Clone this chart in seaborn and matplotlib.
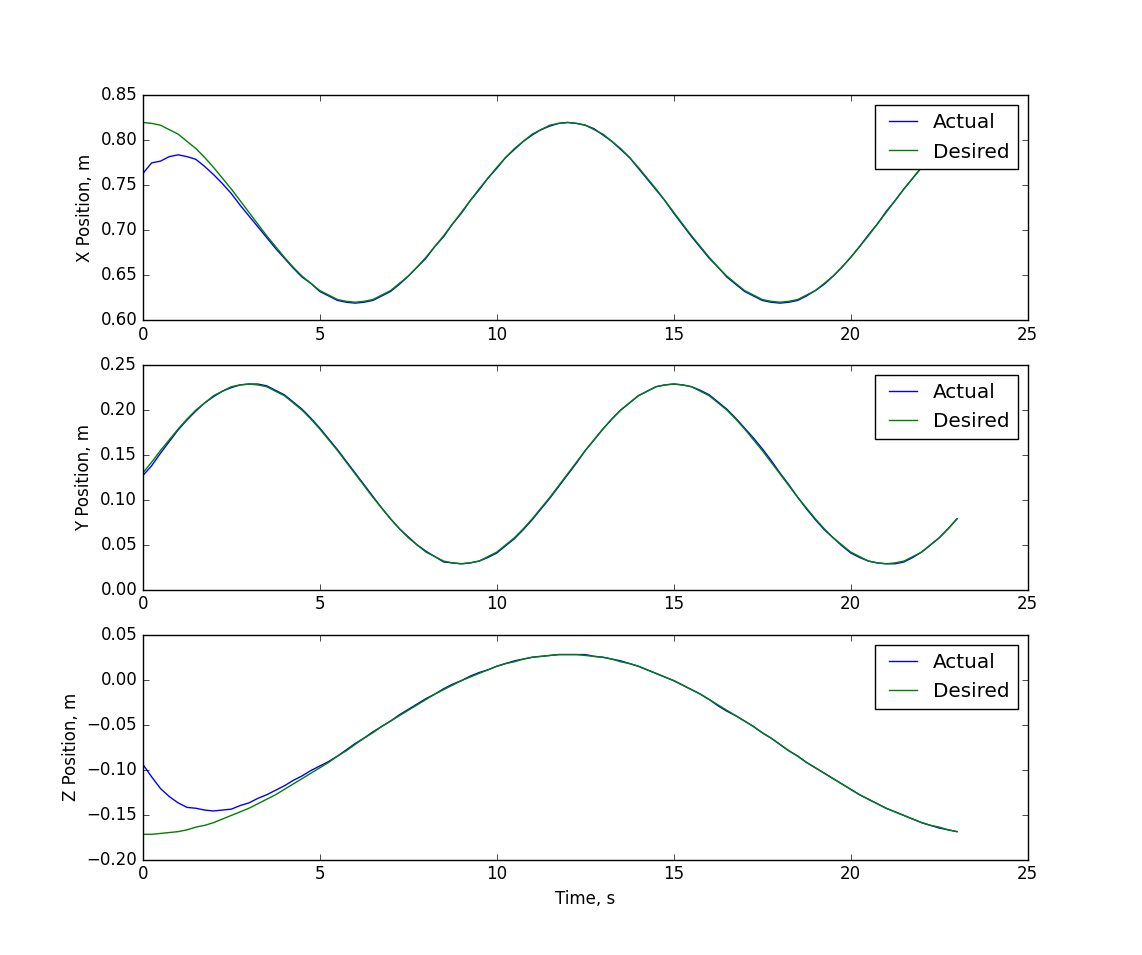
import numpy as np
import seaborn as sns
from matplotlib import pyplot as plt

# sample times (s), every 0.25 s from 0 to 23
t = np.arange(0, 23.01, 0.25)

# desired trajectory
x_des = [0.820, 0.819, 0.817, 0.812, 0.807, 0.799, 0.791, 0.781, 0.770, 0.758, 0.746, 0.733,
         0.720, 0.707, 0.694, 0.682, 0.670, 0.659, 0.649, 0.641, 0.633, 0.628, 0.623, 0.621, 0.620,
         0.621, 0.623, 0.628, 0.633, 0.641, 0.649, 0.659, 0.670, 0.682, 0.694, 0.707, 0.720,
         0.733, 0.746, 0.758, 0.770, 0.781, 0.791, 0.799, 0.807, 0.812, 0.817, 0.819, 0.820,
         0.819, 0.817, 0.812, 0.807, 0.799, 0.791, 0.781, 0.770, 0.758, 0.746, 0.733, 0.720,
         0.707, 0.694, 0.682, 0.670, 0.659, 0.649, 0.641, 0.633, 0.628, 0.623, 0.621, 0.620,
         0.621, 0.623, 0.628, 0.633, 0.641, 0.649, 0.659, 0.670, 0.682, 0.694, 0.707, 0.720,
         0.733, 0.746, 0.758, 0.770, 0.781, 0.791, 0.799, 0.807]
y_des = [0.130, 0.142, 0.155, 0.167, 0.179, 0.190, 0.200, 0.208, 0.216, 0.221, 0.226, 0.228, 0.229,
         0.228, 0.226, 0.221, 0.216, 0.208, 0.200, 0.190, 0.179, 0.167, 0.155, 0.142, 0.129,
         0.116, 0.103, 0.091, 0.079, 0.068, 0.058, 0.050, 0.042, 0.037, 0.032, 0.030, 0.029,
         0.030, 0.032, 0.037, 0.042, 0.050, 0.058, 0.068, 0.079, 0.091, 0.103, 0.116, 0.129,
         0.142, 0.155, 0.167, 0.179, 0.190, 0.200, 0.208, 0.216, 0.221, 0.226, 0.228, 0.229,
         0.228, 0.226, 0.221, 0.216, 0.208, 0.200, 0.190, 0.179, 0.167, 0.155, 0.142, 0.129,
         0.116, 0.103, 0.091, 0.079, 0.068, 0.058, 0.050, 0.042, 0.037, 0.032, 0.030, 0.029,
         0.030, 0.032, 0.037, 0.042, 0.050, 0.058, 0.068, 0.079]
z_des = [-0.172, -0.172, -0.171, -0.170, -0.169, -0.167, -0.164, -0.162, -0.159, -0.155,
         -0.151, -0.147, -0.143, -0.138, -0.133, -0.128, -0.122, -0.116, -0.110, -0.104,
         -0.098, -0.092, -0.085, -0.079, -0.072,
         -0.065, -0.059, -0.052, -0.046, -0.040, -0.034, -0.028, -0.022, -0.016, -0.011,
         -0.006, -0.001, 0.003, 0.007, 0.011, 0.015, 0.018, 0.020, 0.023, 0.025, 0.026,
         0.027, 0.028, 0.028,
         0.028, 0.027, 0.026, 0.025, 0.023, 0.020, 0.018, 0.015, 0.011, 0.007, 0.003,
         -0.001, -0.006, -0.011, -0.016, -0.022, -0.028, -0.034, -0.040, -0.046, -0.052,
         -0.059, -0.065, -0.072, -0.079, -0.085, -0.092, -0.098, -0.104, -0.110, -0.116,
         -0.122, -0.128, -0.133, -0.138, -0.143, -0.147, -0.151, -0.155, -0.159, -0.162,
         -0.164, -0.167, -0.169]

# actual (measured) trajectory
x_act = [0.763, 0.775, 0.777, 0.782, 0.784, 0.782, 0.779, 0.771, 0.762, 0.752, 0.741, 0.728,
         0.716, 0.704, 0.692, 0.680, 0.669, 0.658, 0.648, 0.641, 0.632, 0.627, 0.622, 0.620, 0.619,
         0.620, 0.622, 0.627, 0.632, 0.640, 0.649, 0.659, 0.669, 0.682, 0.693, 0.707, 0.719,
         0.733, 0.745, 0.758, 0.769, 0.781, 0.790, 0.799, 0.806, 0.812, 0.816, 0.819, 0.820,
         0.819, 0.817, 0.813, 0.806, 0.799, 0.790, 0.781, 0.769, 0.757, 0.745, 0.733, 0.719,
         0.706, 0.693, 0.681, 0.669, 0.659, 0.648, 0.640, 0.632, 0.627, 0.622, 0.620, 0.619,
         0.620, 0.622, 0.627, 0.633, 0.640, 0.649, 0.659, 0.670, 0.682, 0.695, 0.707, 0.721,
         0.733, 0.746, 0.758, 0.770, 0.781, 0.791, 0.799, 0.806]
y_act = [0.127, 0.138, 0.152, 0.165, 0.178, 0.189, 0.199, 0.208, 0.215, 0.221, 0.225, 0.228, 0.229,
         0.229, 0.227, 0.222, 0.217, 0.209, 0.201, 0.191, 0.180, 0.168, 0.156, 0.143, 0.130,
         0.117, 0.104, 0.091, 0.079, 0.068, 0.059, 0.050, 0.043, 0.037, 0.031, 0.030, 0.029,
         0.030, 0.032, 0.036, 0.041, 0.049, 0.057, 0.067, 0.078, 0.090, 0.102, 0.115, 0.128,
         0.141, 0.155, 0.167, 0.179, 0.190, 0.200, 0.208, 0.216, 0.221, 0.226, 0.228, 0.229,
         0.228, 0.226, 0.222, 0.217, 0.209, 0.201, 0.191, 0.180, 0.169, 0.157, 0.144, 0.130,
         0.117, 0.103, 0.090, 0.078, 0.067, 0.058, 0.049, 0.041, 0.036, 0.032, 0.030, 0.029,
         0.029, 0.031, 0.036, 0.042, 0.050, 0.058, 0.068, 0.079]
z_act = [-0.094, -0.108, -0.121, -0.130, -0.137, -0.142, -0.143, -0.145, -0.146, -0.145,
         -0.144, -0.140, -0.137, -0.132, -0.128, -0.123, -0.118, -0.112, -0.107, -0.101,
         -0.096, -0.091, -0.085, -0.078, -0.071,
         -0.065, -0.058, -0.052, -0.046, -0.039, -0.033, -0.027, -0.021, -0.016, -0.010,
         -0.005, -0.001, 0.004, 0.008, 0.011, 0.015, 0.018, 0.021, 0.023, 0.025, 0.026,
         0.027, 0.028, 0.028,
         0.028, 0.028, 0.026, 0.025, 0.023, 0.021, 0.018, 0.015, 0.011, 0.007, 0.003,
         -0.001, -0.006, -0.011, -0.016, -0.022, -0.029, -0.035, -0.040, -0.046, -0.052,
         -0.059, -0.065, -0.072, -0.079, -0.085, -0.092, -0.098, -0.104, -0.110, -0.116,
         -0.122, -0.128, -0.133, -0.138, -0.143, -0.147, -0.151, -0.155, -0.159, -0.162,
         -0.165, -0.167, -0.169]

plt.style.use('classic')

fig, axes = plt.subplots(3, 1, figsize=(11.42, 9.55), dpi=100)
fig.patch.set_facecolor('white')

panels = [(x_act, x_des, 'X Position, m', (0.60, 0.85)),
          (y_act, y_des, 'Y Position, m', (0.00, 0.25)),
          (z_act, z_des, 'Z Position, m', (-0.20, 0.05))]

for ax, (act, des, ylab, ylim) in zip(axes, panels):
    sns.lineplot(x=t, y=act, ax=ax, color='b', linewidth=1, label='Actual')
    sns.lineplot(x=t, y=des, ax=ax, color='g', linewidth=1, label='Desired')
    ax.set_xlim(0, 25)
    ax.set_ylim(*ylim)
    ax.set_ylabel(ylab)
    ax.legend(loc='upper right', handletextpad=0.5)

axes[2].set_xlabel('Time, s')

plt.savefig('out.png', dpi=100, facecolor='white')
